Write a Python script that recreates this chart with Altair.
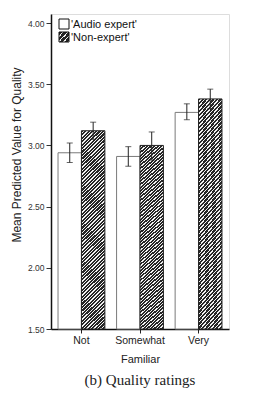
import altair as alt
import pandas as pd

# ---- data ----
familiar = ["Not", "Somewhat", "Very"]
groups = ["Audio expert", "Non-expert"]
legend_labels = ["'Audio expert'", "'Non-expert'"]

audio_mean = [2.94, 2.91, 3.27]
audio_lo = [2.86, 2.83, 3.21]
audio_hi = [3.02, 2.99, 3.34]

non_mean = [3.12, 3.00, 3.38]
non_lo = [3.05, 2.88, 3.30]
non_hi = [3.19, 3.11, 3.46]

y_ticks = [1.5, 2.0, 2.5, 3.0, 3.5, 4.0]

rows = []
for i, f in enumerate(familiar):
    rows.append({"familiar": f, "group": groups[0], "mean": audio_mean[i], "lo": audio_lo[i], "hi": audio_hi[i]})
    rows.append({"familiar": f, "group": groups[1], "mean": non_mean[i], "lo": non_lo[i], "hi": non_hi[i]})
df = pd.DataFrame(rows)
legend_df = pd.DataFrame({"label": legend_labels, "key": groups})

SANS = "Liberation Sans"
DARK = "#262626"


def hatch(n, x2, y2, dark=DARK, light="#f2f2f2", frac=0.62):
    stops = []
    for i in range(n):
        a = i / n
        b = (i + frac) / n
        c = (i + 1) / n
        stops += [
            {"offset": a, "color": dark},
            {"offset": b, "color": dark},
            {"offset": b, "color": light},
            {"offset": c, "color": light},
        ]
    return {"gradient": "linear", "x1": 0, "y1": 0, "x2": x2, "y2": y2, "stops": stops}


bar_hatch = hatch(64, 0.1266, 1.1005)
swatch_hatch = hatch(4, 1, 1)

x_enc = alt.X(
    "familiar:N",
    sort=familiar,
    scale=alt.Scale(domain=familiar, paddingInner=0.2, paddingOuter=0.12),
    axis=alt.Axis(
        title="Familiar",
        labelAngle=0,
        labelFont=SANS,
        labelFontSize=10.5,
        labelColor="#222",
        labelPadding=2,
        tickSize=4,
        tickColor="#222",
        tickWidth=1,
        domainColor="#111",
        domainWidth=1.5,
        titleFont=SANS,
        titleFontSize=11,
        titleFontWeight="normal",
        titleColor="#222",
        titlePadding=8,
    ),
)
xo_enc = alt.XOffset("group:N", sort=groups, scale=alt.Scale(domain=groups, paddingInner=0, paddingOuter=0))
y_scale = alt.Scale(domain=[1.5, 4.074], zero=False, nice=False)
y_enc = alt.Y(
    "mean:Q",
    scale=y_scale,
    axis=alt.Axis(
        title="Mean Predicted Value for Quality",
        values=y_ticks,
        format=".2f",
        grid=False,
        labelFont=SANS,
        labelFontSize=8.5,
        labelColor="#333",
        labelPadding=2,
        tickSize=5,
        tickColor="#333",
        tickWidth=1,
        domainColor="#111",
        domainWidth=1.5,
        titleFont=SANS,
        titleFontSize=12,
        titleFontWeight="normal",
        titleColor="#222",
        titleX=-35,
        titleY=140.5,
        titleAlign="center",
        titleBaseline="middle",
    ),
)

base = alt.Chart(df)

audio_bars = base.transform_filter(alt.datum.group == "Audio expert").mark_bar(
    fill="white", stroke="#7a7a7a", strokeWidth=1
).encode(x=x_enc, xOffset=xo_enc, y=y_enc, y2=alt.Y2(datum=1.5))

non_bars = base.transform_filter(alt.datum.group == "Non-expert").mark_bar(
    fill=bar_hatch, stroke="#222", strokeWidth=1
).encode(x=x_enc, xOffset=xo_enc, y=y_enc, y2=alt.Y2(datum=1.5))

err_rule = base.mark_rule(color="#222", strokeWidth=1).encode(
    x=x_enc, xOffset=xo_enc, y=alt.Y("lo:Q", scale=y_scale), y2="hi:Q"
)
cap_lo = base.mark_tick(color="#222", thickness=1, size=6, orient="horizontal").encode(
    x=x_enc, xOffset=xo_enc, y=alt.Y("lo:Q", scale=y_scale)
)
cap_hi = base.mark_tick(color="#222", thickness=1, size=6, orient="horizontal").encode(
    x=x_enc, xOffset=xo_enc, y=alt.Y("hi:Q", scale=y_scale)
)

leg = alt.Chart(legend_df)
sw1 = leg.transform_filter(alt.datum.key == "Audio expert").mark_rect(
    fill="white", stroke="#111", strokeWidth=1
).encode(x=alt.value(8), x2=alt.value(18), y=alt.value(5), y2=alt.value(15))
sw2 = leg.transform_filter(alt.datum.key == "Non-expert").mark_rect(
    fill=swatch_hatch, stroke="#111", strokeWidth=1
).encode(x=alt.value(8), x2=alt.value(18), y=alt.value(18), y2=alt.value(28))
t1 = leg.transform_filter(alt.datum.key == "Audio expert").mark_text(
    font=SANS, fontSize=11, align="left", baseline="middle", color="#111"
).encode(text="label:N", x=alt.value(20), y=alt.value(10.5))
t2 = leg.transform_filter(alt.datum.key == "Non-expert").mark_text(
    font=SANS, fontSize=11, align="left", baseline="middle", color="#111"
).encode(text="label:N", x=alt.value(20), y=alt.value(23.5))

chart = (
    alt.layer(audio_bars, non_bars, err_rule, cap_lo, cap_hi, sw1, sw2, t1, t2)
    .properties(
        width=178,
        height=315,
        padding={"left": 51, "top": 14, "right": 24, "bottom": 64},
        autosize=alt.AutoSizeParams(type="none"),
        title=alt.TitleParams(
            "(b) Quality ratings",
            orient="bottom",
            anchor="middle",
            font="Liberation Serif",
            fontSize=15,
            fontWeight="normal",
            color="#222",
            offset=8,
        ),
    )
    .configure_view(stroke=None)
    .configure(background="white")
)

chart.save("out.html", embed_options={"renderer": "svg", "actions": False})
